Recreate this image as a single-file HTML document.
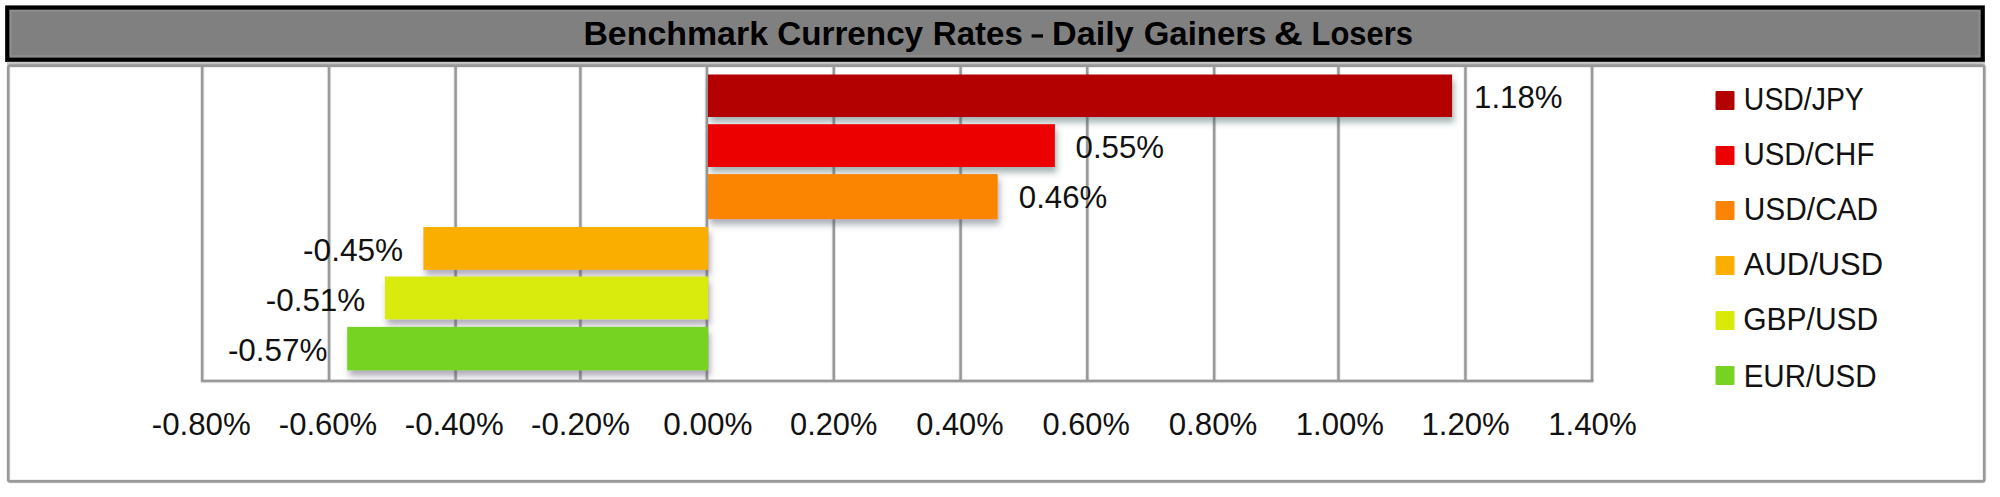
<!DOCTYPE html>
<html><head><meta charset="utf-8">
<style>
html,body{margin:0;padding:0;background:#fff;width:2000px;height:497px;overflow:hidden;}
svg{position:absolute;left:0;top:0;display:block;}
text{font-family:"Liberation Sans",sans-serif;}
</style></head>
<body>
<svg width="2000" height="497" viewBox="0 0 2000 497">
<defs>
<filter id="sh0" x="-5%" y="-30%" width="115%" height="170%"><feDropShadow dx="2" dy="5.5" stdDeviation="3" flood-color="#3a5c5c" flood-opacity="0.46"/></filter>
<filter id="sh1" x="-5%" y="-30%" width="115%" height="170%"><feDropShadow dx="2" dy="5.5" stdDeviation="3" flood-color="#4a5468" flood-opacity="0.46"/></filter>
<filter id="sh2" x="-5%" y="-30%" width="115%" height="170%"><feDropShadow dx="2" dy="5.5" stdDeviation="3" flood-color="#544a6a" flood-opacity="0.46"/></filter>
</defs>
<rect x="7.35" y="7.6" width="1975.3" height="52.2" fill="#808080" stroke="#000" stroke-width="4.4"/>
<rect x="10.6" y="10.8" width="1968.8" height="45.35" fill="none" stroke="#8e8e8e" stroke-width="2"/>
<rect x="7" y="61.8" width="1978" height="3" fill="#c8c8c8"/>
<rect x="8.3" y="65.6" width="1976" height="415.8" fill="#fff"/>
<rect x="8.3" y="65.6" width="1976" height="415.8" rx="2" fill="none" stroke="#999" stroke-opacity="0.2" stroke-width="4.4"/>
<rect x="8.3" y="65.6" width="1976" height="415.8" rx="2" fill="none" stroke="#999" stroke-width="2.6"/>
<g stroke="#999" stroke-width="4.4" stroke-opacity="0.2">
<line x1="202.20" y1="65" x2="202.20" y2="381"/>
<line x1="329.06" y1="65" x2="329.06" y2="381"/>
<line x1="455.60" y1="65" x2="455.60" y2="381"/>
<line x1="580.40" y1="65" x2="580.40" y2="381"/>
<line x1="706.90" y1="65" x2="706.90" y2="381"/>
<line x1="833.80" y1="65" x2="833.80" y2="381"/>
<line x1="960.60" y1="65" x2="960.60" y2="381"/>
<line x1="1087.30" y1="65" x2="1087.30" y2="381"/>
<line x1="1214.20" y1="65" x2="1214.20" y2="381"/>
<line x1="1338.45" y1="65" x2="1338.45" y2="381"/>
<line x1="1465.45" y1="65" x2="1465.45" y2="381"/>
<line x1="1592.06" y1="65" x2="1592.06" y2="381"/>
<line x1="200.9" y1="381.1" x2="1593.36" y2="381.1"/>
</g>
<g stroke="#999" stroke-width="2.5" stroke-opacity="1">
<line x1="202.20" y1="65" x2="202.20" y2="381"/>
<line x1="329.06" y1="65" x2="329.06" y2="381"/>
<line x1="455.60" y1="65" x2="455.60" y2="381"/>
<line x1="580.40" y1="65" x2="580.40" y2="381"/>
<line x1="706.90" y1="65" x2="706.90" y2="381"/>
<line x1="833.80" y1="65" x2="833.80" y2="381"/>
<line x1="960.60" y1="65" x2="960.60" y2="381"/>
<line x1="1087.30" y1="65" x2="1087.30" y2="381"/>
<line x1="1214.20" y1="65" x2="1214.20" y2="381"/>
<line x1="1338.45" y1="65" x2="1338.45" y2="381"/>
<line x1="1465.45" y1="65" x2="1465.45" y2="381"/>
<line x1="1592.06" y1="65" x2="1592.06" y2="381"/>
<line x1="200.9" y1="381.1" x2="1593.36" y2="381.1"/>
</g>
<rect x="708.0" y="74.5" width="744.1" height="42.5" fill="#b30000" filter="url(#sh0)"/>
<rect x="708.0" y="124.2" width="346.9" height="42.8" fill="#ec0000" filter="url(#sh0)"/>
<rect x="708.0" y="174.1" width="289.7" height="45.1" fill="#fb8404" filter="url(#sh1)"/>
<rect x="423.4" y="227.0" width="284.8" height="42.9" fill="#f9ae00" filter="url(#sh2)"/>
<rect x="384.9" y="276.5" width="323.3" height="42.9" fill="#d9ea0a" filter="url(#sh2)"/>
<rect x="347.2" y="326.9" width="361.0" height="43.5" fill="#77d322" filter="url(#sh2)"/>
<rect x="1715.5" y="90.9" width="19" height="19" rx="1" fill="#b30000"/>
<rect x="1715.5" y="145.9" width="19" height="19" rx="1" fill="#ec0000"/>
<rect x="1715.5" y="200.9" width="19" height="19" rx="1" fill="#fb8404"/>
<rect x="1715.5" y="255.9" width="19" height="19" rx="1" fill="#f9ae00"/>
<rect x="1715.5" y="310.9" width="19" height="19" rx="1" fill="#d9ea0a"/>
<rect x="1715.5" y="365.9" width="19" height="19" rx="1" fill="#77d322"/>
<text transform="translate(583.40 45.00) scale(1.0120 1)" font-size="33.5" font-weight="bold" fill="#000" stroke="#000" stroke-width="0">Benchmark</text>
<text transform="translate(777.17 45.00) scale(0.9927 1)" font-size="33.5" font-weight="bold" fill="#000" stroke="#000" stroke-width="0">Currency</text>
<text transform="translate(932.85 45.00) scale(0.9851 1)" font-size="33.5" font-weight="bold" fill="#000" stroke="#000" stroke-width="0">Rates</text>
<text transform="translate(1052.08 45.00) scale(1.0190 1)" font-size="33.5" font-weight="bold" fill="#000" stroke="#000" stroke-width="0">Daily</text>
<text transform="translate(1143.68 45.00) scale(0.9841 1)" font-size="33.5" font-weight="bold" fill="#000" stroke="#000" stroke-width="0">Gainers</text>
<text transform="translate(1273.69 45.00) scale(1.2033 1)" font-size="33.5" font-weight="bold" fill="#000" stroke="#000" stroke-width="0">&amp;</text>
<text transform="translate(1311.49 45.00) scale(0.9233 1)" font-size="33.5" font-weight="bold" fill="#000" stroke="#000" stroke-width="0">Losers</text>
<text transform="translate(1474.06 107.60) scale(0.9902 1)" font-size="31.5" font-weight="normal" fill="#111" stroke="#111" stroke-width="0">1.18%</text>
<text transform="translate(1075.55 157.60) scale(0.9915 1)" font-size="31.5" font-weight="normal" fill="#111" stroke="#111" stroke-width="0">0.55%</text>
<text transform="translate(1018.85 208.30) scale(0.9903 1)" font-size="31.5" font-weight="normal" fill="#111" stroke="#111" stroke-width="0">0.46%</text>
<text transform="translate(303.08 260.60) scale(1.0023 1)" font-size="31.5" font-weight="normal" fill="#111" stroke="#111" stroke-width="0">-0.45%</text>
<text transform="translate(265.69 310.60) scale(0.9982 1)" font-size="31.5" font-weight="normal" fill="#111" stroke="#111" stroke-width="0">-0.51%</text>
<text transform="translate(227.89 360.60) scale(0.9982 1)" font-size="31.5" font-weight="normal" fill="#111" stroke="#111" stroke-width="0">-0.57%</text>
<text transform="translate(151.79 434.70) scale(0.9920 1)" font-size="31.5" font-weight="normal" fill="#111" stroke="#111" stroke-width="0">-0.80%</text>
<text transform="translate(278.80 434.70) scale(0.9858 1)" font-size="31.5" font-weight="normal" fill="#111" stroke="#111" stroke-width="0">-0.60%</text>
<text transform="translate(404.85 434.70) scale(0.9905 1)" font-size="31.5" font-weight="normal" fill="#111" stroke="#111" stroke-width="0">-0.40%</text>
<text transform="translate(531.10 434.70) scale(0.9905 1)" font-size="31.5" font-weight="normal" fill="#111" stroke="#111" stroke-width="0">-0.20%</text>
<text transform="translate(663.14 434.70) scale(1.0007 1)" font-size="31.5" font-weight="normal" fill="#111" stroke="#111" stroke-width="0">0.00%</text>
<text transform="translate(790.02 434.70) scale(0.9777 1)" font-size="31.5" font-weight="normal" fill="#111" stroke="#111" stroke-width="0">0.20%</text>
<text transform="translate(916.27 434.70) scale(0.9777 1)" font-size="31.5" font-weight="normal" fill="#111" stroke="#111" stroke-width="0">0.40%</text>
<text transform="translate(1042.52 434.70) scale(0.9777 1)" font-size="31.5" font-weight="normal" fill="#111" stroke="#111" stroke-width="0">0.60%</text>
<text transform="translate(1168.75 434.70) scale(0.9921 1)" font-size="31.5" font-weight="normal" fill="#111" stroke="#111" stroke-width="0">0.80%</text>
<text transform="translate(1295.66 434.70) scale(0.9891 1)" font-size="31.5" font-weight="normal" fill="#111" stroke="#111" stroke-width="0">1.00%</text>
<text transform="translate(1421.41 434.70) scale(0.9902 1)" font-size="31.5" font-weight="normal" fill="#111" stroke="#111" stroke-width="0">1.20%</text>
<text transform="translate(1548.16 434.70) scale(0.9926 1)" font-size="31.5" font-weight="normal" fill="#111" stroke="#111" stroke-width="0">1.40%</text>
<text transform="translate(1743.87 109.80) scale(0.9020 1)" font-size="31.5" font-weight="normal" fill="#111" stroke="#111" stroke-width="0">USD/JPY</text>
<text transform="translate(1743.39 164.80) scale(0.9359 1)" font-size="31.5" font-weight="normal" fill="#111" stroke="#111" stroke-width="0">USD/CHF</text>
<text transform="translate(1743.76 219.80) scale(0.9488 1)" font-size="31.5" font-weight="normal" fill="#111" stroke="#111" stroke-width="0">USD/CAD</text>
<text transform="translate(1743.85 274.80) scale(0.9823 1)" font-size="31.5" font-weight="normal" fill="#111" stroke="#111" stroke-width="0">AUD/USD</text>
<text transform="translate(1743.30 329.80) scale(0.9520 1)" font-size="31.5" font-weight="normal" fill="#111" stroke="#111" stroke-width="0">GBP/USD</text>
<text transform="translate(1743.64 386.80) scale(0.9382 1)" font-size="31.5" font-weight="normal" fill="#111" stroke="#111" stroke-width="0">EUR/USD</text>
<rect x="1031.6" y="34.3" width="11.4" height="3.3" fill="#000"/>
</svg>
</body></html>
